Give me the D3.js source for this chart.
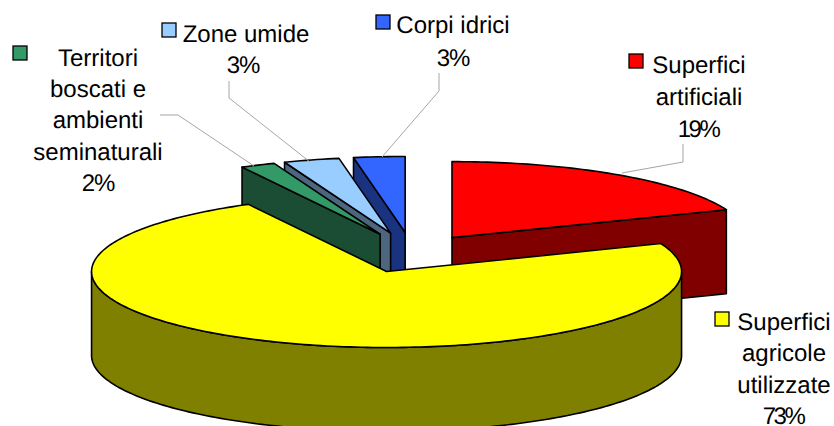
<!DOCTYPE html>
<html>
<head>
<meta charset="utf-8">
<script src="https://cdn.jsdelivr.net/npm/d3@7"></script>
<style>
html,body{margin:0;padding:0;background:#fff;overflow:hidden}
text{font-family:"Liberation Sans",Arial,sans-serif;font-size:24px;fill:#000;text-anchor:middle;text-rendering:geometricPrecision}
</style>
</head>
<body>
<svg id="c" width="834" height="426"></svg>
<script>
// Data
const categories = ["Superfici artificiali","Superfici agricole utilizzate","Territori boscati e ambienti seminaturali","Zone umide","Corpi idrici"];
const values = [19, 73.2, 1.9, 3.05, 2.8];
const topColors = ["#ff0000","#ffff00","#339966","#99ccff","#3366ff"];
const wallColors = ["#800000","#808000","#1a4d33","#4d6680","#1a3380"];
const labelLines = [
  ["Superfici","artificiali"],
  ["Superfici","agricole","utilizzate"],
  ["Territori","boscati e","ambienti","seminaturali"],
  ["Zone umide"],
  ["Corpi idrici"]
];
// Layout (not data)
const cx = 411.5, cy = 253.5, rx = 295, ry = 76, depth = 84;
const explodeX = 72, explodeY = 19.2;
const explodeFactorX = [1,1,1.05,1.08,1];
const explodeFactorY = [1,1,1.1,1.1,1.1];
const labelLayout = [
  {x:699, y:73,  dy:32, key:[629,54], px:698},
  {x:784, y:330, dy:31.3, key:[715,312], px:783},
  {x:98,  y:66,  dy:31.2, key:[13,46], px:98},
  {x:246, y:42,  dy:31, key:[162,23], px:243},
  {x:453, y:33,  dy:33, key:[376,15], px:453}
];
const leaders = [
  [[683,144],[683,162],[622,173]],
  null,
  [[160,115],[178,115],[254,166]],
  [[229,81],[229,98],[310,162]],
  [[439,73],[439,91],[382,157]]
];

const svg = d3.select("#c");
const line = d3.line();
const total = d3.sum(values);
const pct = d3.format(".0%");
const arcs = d3.pie().sort(null)(values);

const slices = arcs.map((a,i)=>{
  const mid = (a.startAngle+a.endAngle)/2;
  const ax = cx + Math.sin(mid)*explodeX*explodeFactorX[i], ay = cy - Math.cos(mid)*explodeY*explodeFactorY[i];
  const pt = t => [ax + rx*Math.sin(t), ay - ry*Math.cos(t)];
  return {i, a, ax, ay, pt};
});

function arcPts(s,t0,t1){
  const n = Math.max(2, Math.ceil(Math.abs(t1-t0)/0.02));
  return d3.range(n+1).map(k=>s.pt(t0+(t1-t0)*k/n));
}
const down = p => [p[0], p[1]+depth];
function poly(points, fill){
  svg.append("path").attr("d", line(points)+"Z").attr("fill",fill)
    .attr("stroke","#000").attr("stroke-width",1.6).attr("stroke-linejoin","round");
}

// painter's order: back slices first
[0,4,3,2,1].forEach(i=>{
  const s = slices[i], {startAngle:t0,endAngle:t1} = s.a, apex=[s.ax,s.ay];
  const wall = wallColors[i];
  if(i===0){ // end-edge wall
    const e = s.pt(t1);
    poly([apex,e,down(e),down(apex)],wall);
  } else if(i===1){ // outer wall of the front half
    const pts = arcPts(s,Math.PI/2,Math.PI*1.5);
    poly(pts.concat(pts.slice().reverse().map(down)),wall);
  } else { // start-edge wall
    const e = s.pt(t0);
    poly([e,apex,down(apex),down(e)],wall);
  }
  poly([apex].concat(arcPts(s,t0,t1)),topColors[i]);
});

// leaders
leaders.forEach(l=>{
  if(l) svg.append("path").attr("d",line(l)).attr("fill","none").attr("stroke","#a6a6a6").attr("stroke-width",1);
});

// labels
categories.forEach((c,i)=>{
  const L = labelLayout[i];
  const lines = labelLines[i];
  lines.forEach((t,j)=>{
    svg.append("text").attr("x",L.x).attr("y",L.y+j*L.dy).text(t);
  });
  svg.append("text").attr("x",L.px).attr("y",L.y+lines.length*L.dy)
    .style("letter-spacing", values[i]>=10?"-2.5px":"-1px").text(pct(values[i]/total));
  svg.append("rect").attr("x",L.key[0]).attr("y",L.key[1]).attr("width",14).attr("height",14)
    .attr("fill",topColors[i]).attr("stroke","#000").attr("stroke-width",1.3);
});
</script>
</body>
</html>
